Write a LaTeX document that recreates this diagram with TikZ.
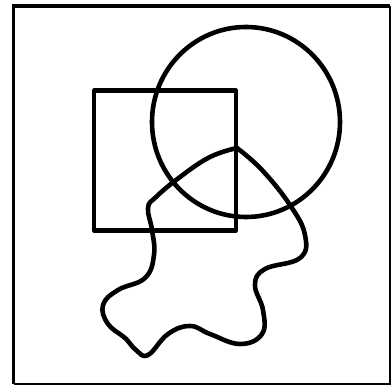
\documentclass[tikz,border=0pt]{standalone}
\begin{document}
\begin{tikzpicture}[x=1pt, y=-1pt,
  frame/.style={draw, line width=3.6pt},
  thinframe/.style={draw, line width=2pt},
  figline/.style={draw, line width=4.2pt, line join=round},
  blob/.style={draw, line width=4.6pt, line join=round, line cap=round}
]
  \useasboundingbox (0,0) rectangle (391,385);
  % outer frame
  \draw[frame] (13.5,383.5) -- (13.5,6) -- (389.5,6);
  \draw[thinframe] (389.5,6) -- (389.5,383.5) -- (13.5,383.5);

  % square and circle
  \draw[figline] (94,90.5) rectangle (235.8,230.5);
  \coordinate (c) at (246,122);
  \draw[figline, line width=4.6pt] (c) circle[x radius=94, y radius=95];

  % blob
  \draw[blob] plot[smooth, tension=0.7] coordinates {
    (237,148) (262,170) (290,205) (305,235) (300,258)
    (265,269) (255,285) (263,310) (262,334) (240,344)
    (210,334) (190,326) (168,334) (148,355) (136,350) (125,338)
    (108,324) (103,305) (118,290) (145,278) (154,255)
    (152,230) (148,208) (156,197) (180,177) (210,157) (237,148)};
\end{tikzpicture}
\end{document}
